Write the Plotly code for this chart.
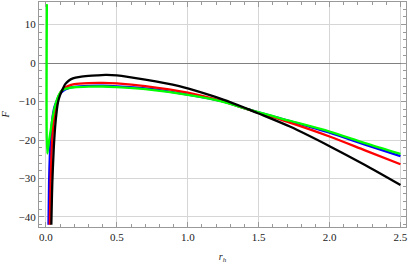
import plotly.graph_objects as go

# r_h sample positions and F values, per curve
r_black = [0.038, 0.045, 0.054, 0.065, 0.075, 0.085, 0.1, 0.12, 0.136, 0.16, 0.19, 0.24, 0.3, 0.36, 0.42, 0.5, 0.7, 0.94, 1.0, 1.25, 1.42, 1.5, 1.72, 2.0, 2.25, 2.5]
F_black = [-42.0, -31.0, -23.0, -16.5, -12.8, -10.2, -8.3, -6.6, -5.5, -4.6, -4.0, -3.6, -3.35, -3.2, -3.1, -3.2, -4.3, -6.0, -6.6, -9.5, -11.9, -13.1, -16.5, -21.6, -26.5, -31.7]

r_red = [0.027, 0.033, 0.04, 0.05, 0.06, 0.07, 0.078, 0.09, 0.11, 0.13, 0.155, 0.2, 0.3, 0.4, 0.5, 0.7, 1.0, 1.25, 1.42, 1.72, 2.0, 2.25, 2.5]
F_red = [-42.0, -31.0, -23.0, -17.0, -13.5, -11.2, -10.0, -8.6, -7.2, -6.5, -6.0, -5.5, -5.2, -5.15, -5.3, -6.0, -7.7, -10.0, -12.0, -15.5, -19.1, -22.7, -26.3]

r_blue = [0.018, 0.022, 0.028, 0.035, 0.045, 0.055, 0.065, 0.075, 0.09, 0.11, 0.13, 0.16, 0.2, 0.3, 0.4, 0.5, 0.7, 1.0, 1.25, 1.42, 1.72, 2.0, 2.25, 2.5]
F_blue = [-42.0, -31.0, -23.5, -18.5, -14.5, -12.2, -10.8, -10.0, -8.6, -7.6, -7.0, -6.5, -6.2, -5.95, -5.9, -6.05, -6.6, -8.2, -10.0, -12.0, -15.1, -18.1, -21.2, -24.2]

r_green = [0.0065, 0.009, 0.014, 0.02, 0.027, 0.033, 0.042, 0.052, 0.062, 0.073, 0.09, 0.108, 0.13, 0.16, 0.2, 0.3, 0.4, 0.5, 0.7, 1.0, 1.25, 1.42, 1.72, 2.0, 2.25, 2.5]
F_green = [15.3, -23.5, -22.5, -20.8, -19.0, -17.6, -15.3, -13.2, -11.5, -10.0, -8.4, -7.3, -6.8, -6.5, -6.3, -6.15, -6.1, -6.25, -6.8, -8.3, -10.1, -12.0, -15.0, -17.8, -20.8, -23.6]

x_ticks = [0.0, 0.5, 1.0, 1.5, 2.0, 2.5]
x_tick_labels = ["0.0", "0.5", "1.0", "1.5", "2.0", "2.5"]
y_ticks = [-40, -30, -20, -10, 0, 10]
y_tick_labels = ["\u221240", "\u221230", "\u221220", "\u221210", "0", "10"]

fig = go.Figure()
series = [
    (r_blue, F_blue, "#0000ff"),
    (r_red, F_red, "#ff0000"),
    (r_green, F_green, "#00ff00"),
    (r_black, F_black, "#000000"),
]
for xs, ys, col in series:
    fig.add_trace(go.Scatter(x=xs, y=ys, mode="lines", line=dict(color=col, width=2.3, shape="spline", smoothing=0.8),
                             showlegend=False, hoverinfo="skip", cliponaxis=True))

font = dict(family="Liberation Serif", size=11, color="#222222")
fig.update_layout(
    width=409, height=264,
    margin=dict(l=39, r=3, t=2, b=37),
    paper_bgcolor="white", plot_bgcolor="white",
    font=font,
    showlegend=False,
    xaxis=dict(
        range=[-0.049, 2.539], tickvals=x_ticks, ticktext=x_tick_labels,
        ticks="inside", ticklen=5, tickcolor="#999999", tickwidth=1,
        minor=dict(ticks="inside", ticklen=3, dtick=0.1, tick0=0, tickcolor="#999999", showgrid=False),
        showline=True, linecolor="#999999", linewidth=1, mirror="allticks",
        showgrid=True, gridcolor="#d6d6d6", gridwidth=1, zeroline=False,
        title=dict(text="<i>r<sub>h</sub></i>", font=dict(family="Liberation Serif", size=10, color="#222222"), standoff=10),
        tickfont=font,
    ),
    yaxis=dict(
        range=[-42.6, 15.85], tickvals=y_ticks, ticktext=y_tick_labels,
        ticks="inside", ticklen=5, tickcolor="#999999", tickwidth=1,
        minor=dict(ticks="inside", ticklen=3, dtick=2, tick0=0, tickcolor="#999999", showgrid=False),
        showline=True, linecolor="#999999", linewidth=1, mirror="allticks",
        showgrid=True, gridcolor="#d6d6d6", gridwidth=1,
        zeroline=True, zerolinecolor="#808080", zerolinewidth=1,
        title=dict(text="<i>F</i>", font=dict(family="Liberation Serif", size=10, color="#222222"), standoff=8),
        tickfont=font,
    ),
)
fig.write_html(
    "out.html",
    config={"displayModeBar": False, "staticPlot": True},
    post_script="document.body.style.margin='0';document.body.style.overflow='hidden';",
)
